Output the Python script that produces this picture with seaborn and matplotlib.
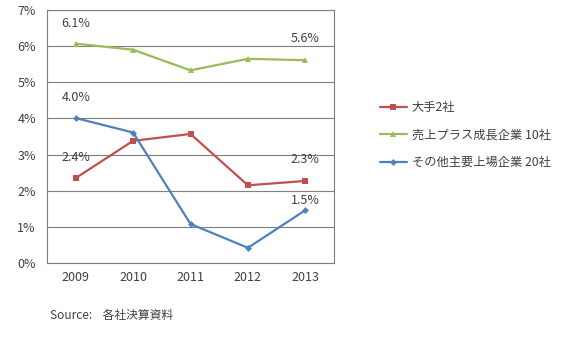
import matplotlib
matplotlib.use("Agg")
import matplotlib.pyplot as plt
import seaborn as sns
import pandas as pd

years = ["2009", "2010", "2011", "2012", "2013"]
series_names = ["大手2社", "売上プラス成長企業 10社", "その他主要上場企業 20社"]
big2 = [2.35, 3.38, 3.57, 2.15, 2.27]
growth10 = [6.07, 5.90, 5.33, 5.65, 5.61]
others20 = [4.01, 3.61, 1.08, 0.42, 1.46]
yticks = [0, 1, 2, 3, 4, 5, 6, 7]
ytick_labels = ["0%", "1%", "2%", "3%", "4%", "5%", "6%", "7%"]
# (series index, point index, label, pixel offset above point)
annotations = [(1, 0, "6.1%", 20), (1, 4, "5.6%", 22), (2, 0, "4.0%", 21),
               (0, 0, "2.4%", 21), (0, 4, "2.3%", 21), (2, 4, "1.5%", 10)]
source_text = "Source:    各社決算資料"

sns.set_theme(style="white")
plt.rcParams['font.family'] = ['Noto Sans CJK JP', 'DejaVu Sans']

colors = ["#C0504D", "#9BBB59", "#4F81BD"]
markers = ["s", "^", "D"]
msizes = [5, 5, 3.5]
all_vals = [big2, growth10, others20]

rows = []
for name, vals in zip(series_names, all_vals):
    for i, (y, v) in enumerate(zip(years, vals)):
        rows.append({"idx": i, "year": y, "value": v, "series": name})
df = pd.DataFrame(rows)

fig = plt.figure(figsize=(5.86, 3.48), dpi=100)
ax = fig.add_axes([47/586, (348-263)/348, 287/586, 253/348])

for name, c, m, ms in zip(series_names, colors, markers, msizes):
    sub = df[df["series"] == name]
    sns.lineplot(data=sub, x="idx", y="value", ax=ax, color=c, marker=m,
                 markersize=ms, markeredgewidth=0, linewidth=1.6, label=name,
                 zorder=3)

ax.set_xlim(-0.5, 4.5)
ax.set_ylim(0, 7)
ax.set_yticks(yticks)
ax.set_yticklabels(ytick_labels)
ax.set_xticks(range(len(years)))
ax.set_xticklabels(years)
ax.set_xlabel("")
ax.set_ylabel("")
ax.yaxis.grid(True, color="#7f7f7f", linewidth=0.8)
ax.set_axisbelow(True)
for s in ax.spines.values():
    s.set_color("#7f7f7f")
    s.set_linewidth(0.8)
ax.tick_params(axis="both", labelsize=9, colors="#404040", length=0, pad=6)
ax.tick_params(axis="y", pad=8)

for si, pi, t, off in annotations:
    ax.annotate(t, (pi, all_vals[si][pi]), xytext=(0, off * 72 / 100),
                textcoords="offset points", ha="center", va="center",
                fontsize=9, color="#404040")

leg = ax.legend(loc="upper left", bbox_to_anchor=(375/586, 1 - 96/348),
                bbox_transform=fig.transFigure, frameon=False, fontsize=8.8,
                handlelength=2.2, labelspacing=1.2, handletextpad=0.4,
                borderaxespad=0)
for txt in leg.get_texts():
    txt.set_color("#404040")

fig.text(50/586, 1 - 315/348, source_text, fontsize=8.5, color="#404040",
         va="center", ha="left")

fig.savefig("out.png", dpi=100, facecolor="white")
